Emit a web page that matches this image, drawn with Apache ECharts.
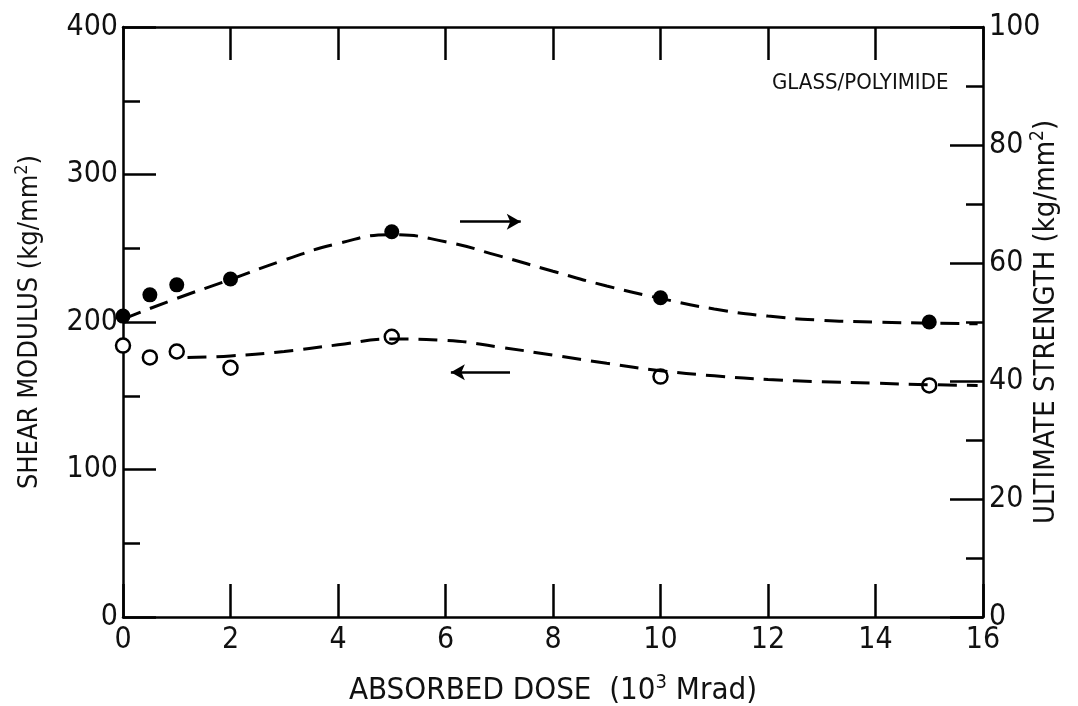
<!DOCTYPE html>
<html>
<head>
<meta charset="utf-8">
<title>Glass/Polyimide</title>
<script src="https://cdn.jsdelivr.net/npm/echarts@6/dist/echarts.min.js"></script>
<style>
  html, body { margin: 0; padding: 0; background: #fff; }
  #chart { width: 1078px; height: 706px; }
</style>
</head>
<body>
<div id="chart"></div>
<script>
  // absorbed dose (10^3 Mrad)
  var dose = [0, 0.5, 1, 2, 5, 10, 15]
  // ultimate strength, filled dots (right axis, kg/mm2)
  var strength = [51, 54.6, 56.3, 57.3, 65.3, 54.1, 50]
  // shear modulus, open dots (left axis, kg/mm2)
  var shear = [184, 176, 180, 169, 190, 163, 157]

  // dashed fitted curves
  var strengthFitX = [0, 1, 2, 3, 4, 5, 6, 7, 8, 9, 10, 11, 12, 13, 14, 15, 15.9]
  var strengthFitY = [50.5, 54, 57.2, 60.5, 63.3, 64.8, 63.6, 61.2, 58.6, 56.1, 54, 52.2, 51, 50.3, 50, 49.8, 49.7]
  var shearFitX = [1.2, 2, 3, 4, 5, 6, 7, 8, 9, 10, 11, 12, 13, 14, 15, 15.9]
  var shearFitY = [176, 177, 180, 184.5, 188.5, 187.5, 183, 177.5, 172, 167, 163.5, 161, 159.5, 158.5, 157.5, 157]

  var xTicks = [0, 2, 4, 6, 8, 10, 12, 14, 16]
  var leftTicks = [0, 100, 200, 300, 400]
  var rightTicks = [0, 20, 40, 60, 80, 100]

  var FONT = "'Liberation Sans Narrow', 'DejaVu Sans Condensed', sans-serif"
  var axisLine = { onZero: false, lineStyle: { color: '#000', width: 2.5 } }
  var tick = { inside: true, length: 33, lineStyle: { color: '#000', width: 2.5 } }
  var minor = { show: true, splitNumber: 2, length: 17, lineStyle: { color: '#000', width: 2.5 } }

  function supStyle(size) {
    return { fontSize: size, fontFamily: FONT, color: '#111', padding: [0, 0, 16, 0] }
  }

  function zip(xs, ys) {
    return xs.map(function (x, i) { return [x, ys[i]] })
  }

  var chart = echarts.init(document.getElementById('chart'))
  chart.setOption({
    backgroundColor: '#fff',
    animation: false,
    textStyle: { fontFamily: FONT },
    grid: { left: 123, right: 95, top: 27, bottom: 89, outerBoundsMode: 'none', containLabel: false },
    xAxis: [{
      type: 'value',
      min: xTicks[0],
      max: xTicks[xTicks.length - 1],
      interval: 2,
      name: 'ABSORBED DOSE  (10{sup|3} Mrad)',
      nameLocation: 'middle',
      nameGap: 56,
      nameTextStyle: {
        fontSize: 31, color: '#111', fontFamily: FONT,
        rich: { sup: supStyle(20) }
      },
      axisLine: axisLine,
      axisTick: tick,
      axisLabel: { fontSize: 30, color: '#111', margin: 8, fontFamily: FONT },
      splitLine: { show: false }
    }, {
      type: 'value',
      position: 'top',
      min: xTicks[0],
      max: xTicks[xTicks.length - 1],
      interval: 2,
      axisLine: axisLine,
      axisTick: tick,
      axisLabel: { show: false },
      splitLine: { show: false }
    }],
    yAxis: [{
      type: 'value',
      min: leftTicks[0],
      max: leftTicks[leftTicks.length - 1],
      interval: 100,
      name: 'SHEAR MODULUS (kg/mm{sup|2})',
      nameLocation: 'middle',
      nameRotate: 90,
      nameGap: 76,
      nameTextStyle: {
        fontSize: 27, color: '#111', fontFamily: FONT,
        rich: { sup: supStyle(18) }
      },
      axisLine: axisLine,
      axisTick: tick,
      minorTick: minor,
      axisLabel: { fontSize: 30, color: '#111', margin: 5, fontFamily: FONT },
      splitLine: { show: false }
    }, {
      type: 'value',
      position: 'right',
      min: rightTicks[0],
      max: rightTicks[rightTicks.length - 1],
      interval: 20,
      name: 'ULTIMATE STRENGTH (kg/mm{sup|2})',
      nameLocation: 'middle',
      nameRotate: 90,
      nameGap: 46,
      nameMoveOverlap: false,
      nameTextStyle: {
        fontSize: 29, color: '#111', fontFamily: FONT,
        rich: { sup: supStyle(19) }
      },
      axisLine: axisLine,
      axisTick: tick,
      minorTick: minor,
      axisLabel: { fontSize: 30, color: '#111', margin: 6, fontFamily: FONT },
      splitLine: { show: false }
    }],
    graphic: [{
      type: 'text',
      left: 772,
      top: 72,
      style: { text: 'GLASS/POLYIMIDE', fontSize: 22, fontFamily: FONT, fill: '#111' }
    }],
    series: [{
      name: 'strength fit',
      type: 'line',
      yAxisIndex: 1,
      smooth: true,
      symbol: 'none',
      data: zip(strengthFitX, strengthFitY),
      lineStyle: { color: '#000', width: 3, type: [19, 10] },
      markLine: {
        silent: true,
        symbol: ['none', 'arrow'],
        symbolSize: [12, 14],
        label: { show: false },
        lineStyle: { color: '#000', width: 2.5, type: 'solid' },
        data: [[{ coord: [6.27, 67] }, { coord: [7.4, 67] }]]
      }
    }, {
      name: 'shear fit',
      type: 'line',
      yAxisIndex: 0,
      smooth: true,
      symbol: 'none',
      data: zip(shearFitX, shearFitY),
      lineStyle: { color: '#000', width: 3, type: [19, 10] },
      markLine: {
        silent: true,
        symbol: ['none', 'arrow'],
        symbolSize: [12, 14],
        label: { show: false },
        lineStyle: { color: '#000', width: 2.5, type: 'solid' },
        data: [[{ coord: [7.2, 166] }, { coord: [6.1, 166] }]]
      }
    }, {
      name: 'ultimate strength',
      type: 'scatter',
      yAxisIndex: 1,
      symbol: 'circle',
      symbolSize: 15,
      data: zip(dose, strength),
      itemStyle: { color: '#000', opacity: 1 }
    }, {
      name: 'shear modulus',
      type: 'scatter',
      yAxisIndex: 0,
      symbol: 'circle',
      symbolSize: 14,
      data: zip(dose, shear),
      itemStyle: { color: '#fff', borderColor: '#000', borderWidth: 2.5, opacity: 1 }
    }]
  })
</script>
</body>
</html>
